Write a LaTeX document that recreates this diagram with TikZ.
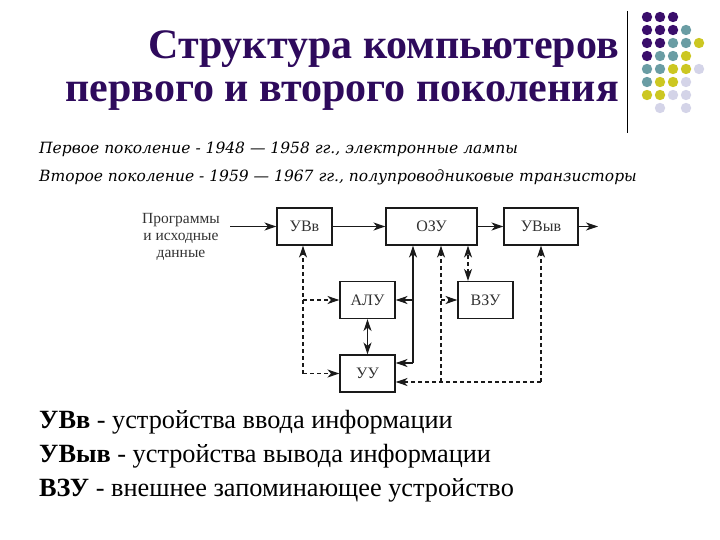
\documentclass[tikz,border=0pt]{standalone}
\usepackage{fontspec}
\setmainfont{Liberation Serif}
\newfontfamily\subfont{DejaVu Serif}
\usetikzlibrary{arrows.meta,calc}
\definecolor{titlec}{HTML}{2E0A5C}
\definecolor{dp}{HTML}{3A0E6B}
\definecolor{dt}{HTML}{6A9DA4}
\definecolor{dy}{HTML}{CCC722}
\definecolor{dl}{HTML}{D4D4E8}
\definecolor{ln}{HTML}{1A1A1A}
\begin{document}
\begin{tikzpicture}[x=1pt,y=-1pt,
 box/.style={draw=ln, line width=1.1pt, minimum width=55pt, minimum height=37pt, inner sep=0pt, font=\fontsize{16}{18}\selectfont, text=black!80},
 arr/.style={-{Stealth[length=12pt,width=8pt,inset=3.5pt]}, line width=1.1pt, draw=ln},
 arrtwo/.style={{Stealth[length=12pt,width=8pt,inset=3.5pt]}-{Stealth[length=12pt,width=8pt,inset=3.5pt]}, line width=1.1pt, draw=ln},
 darr/.style={arr, dash pattern=on 4pt off 3pt},
 darrtwo/.style={arrtwo, dash pattern=on 4pt off 3pt},
 ]
\useasboundingbox (0,0) rectangle (720,540);

% decorative dots
\foreach \r/\c/\col in {0/0/dp,0/1/dp,0/2/dp,
  1/0/dp,1/1/dp,1/2/dp,1/3/dt,
  2/0/dp,2/1/dp,2/2/dt,2/3/dt,2/4/dy,
  3/0/dp,3/1/dt,3/2/dt,3/3/dy,
  4/0/dt,4/1/dt,4/2/dy,4/3/dy,4/4/dl,
  5/0/dt,5/1/dy,5/2/dy,5/3/dl,
  6/0/dy,6/1/dy,6/2/dl,6/3/dl,
  7/1/dl,7/3/dl}
  \fill[\col] ({647+13*\c},{17+13*\r}) circle (5.2);
\draw[line width=0.8pt] (627,11) -- (627,133);

% title
\node[anchor=base east, text=titlec, font=\bfseries\fontsize{42}{48}\selectfont, inner sep=0pt] (t1) at (619,59) {Структура компьютеров};
\node[anchor=base east, text=titlec, font=\bfseries\fontsize{42}{48}\selectfont, inner sep=0pt] (t2) at (619,102) {первого и второго поколения};

% subtitle
\node[anchor=base west, font=\subfont\itshape\fontsize{15.5}{18}\selectfont, inner sep=0pt] (s1) at (39,154) {Первое поколение - 1948 — 1958 гг., электронные лампы};
\node[anchor=base west, font=\subfont\itshape\fontsize{15.5}{18}\selectfont, inner sep=0pt] (s2) at (39,182) {Второе поколение - 1959 — 1967 гг., полупроводниковые транзисторы};

% diagram
\node[align=center, font=\fontsize{15.5}{17}\selectfont, text=black!80] (prog) at (181,237) {Программы\\и исходные\\данные};
\node[box] (uvv) at (304.5,226.5) {УВв};
\node[box, minimum width=91pt] (ozu) at (431.5,226.5) {ОЗУ};
\node[box, minimum width=74pt] (uvyv) at (541,226.5) {УВыв};
\node[box] (alu) at (367.5,300) {АЛУ};
\node[box] (vzu) at (485.5,300) {ВЗУ};
\node[box] (uu) at (367.5,373.5) {УУ};

\coordinate (in) at (230,226.5);
\coordinate (out) at (598,226.5);
\draw[arr] (in) -- (uvv);
\draw[arr] (uvv) -- (ozu);
\draw[arr] (ozu) -- (uvyv);
\draw[arr] (uvyv) -- (out);

\coordinate (c1) at (303,373.5);
\draw[darr] (c1) -- (c1 |- uvv.south);
\draw[darr] (c1) -- (uu.west);
\draw[darr] (c1 |- alu.west) -- (alu.west);

\coordinate (s1) at (413,363);
\draw[arr] (s1) -- (s1 |- ozu.south);
\draw[arr] (s1) -- (s1 -| uu.east);
\draw[arr] (s1 |- alu.east) -- (alu.east);

\coordinate (d3) at (541,382);
\coordinate (d2) at (441,382);
\draw[darr] (d3) -- (d3 -| uu.east);
\draw[darr] (d3) -- (d3 |- uvyv.south);
\draw[darr] (d2) -- (d2 |- ozu.south);
\draw[darr] (d2 |- vzu.west) -- (vzu.west);

\coordinate (d4) at (468,300);
\draw[darrtwo] (d4 |- vzu.north) -- (d4 |- ozu.south);
\draw[arrtwo] (alu) -- (uu);

% legend
\node[anchor=base west, font=\fontsize{26.3}{30}\selectfont, inner sep=0pt] (l1) at (39,428) {\textbf{УВв} - устройства ввода информации};
\node[anchor=base west, font=\fontsize{26.3}{30}\selectfont, inner sep=0pt] (l2) at (39,462) {\textbf{УВыв} - устройства вывода информации};
\node[anchor=base west, font=\fontsize{26.3}{30}\selectfont, inner sep=0pt] (l3) at (39,496) {\textbf{ВЗУ} - внешнее запоминающее устройство};
\end{tikzpicture}
\end{document}
